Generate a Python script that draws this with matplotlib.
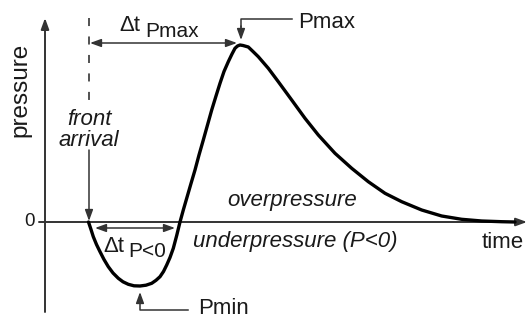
import matplotlib
matplotlib.use("Agg")
import matplotlib.pyplot as plt

plt.rcParams['font.family'] = ['Liberation Sans', 'DejaVu Sans']
plt.rcParams['lines.scale_dashes'] = False

# Schematic blast-wave pressure history (time after front arrival, pressure)
t_curve = [43.5, 46, 48.3, 51.5, 55, 59, 63.3, 68, 73.3, 78, 83.3, 89, 95,
           101, 106.7, 111, 115, 118.5, 121.7, 125, 128.3, 131.7, 135,
           138.3, 141.7, 146, 150, 154, 158.3, 162.5, 166.7, 171, 175, 179,
           183.3, 187, 190, 192.5, 195, 198, 203.3, 208, 213.3, 223.3, 233.3,
           246.7, 260, 273.3, 290, 306.7, 323.3, 340, 356.7, 376.7, 396.7,
           416.7, 436.7, 456.7, 470]
p_curve = [0, -7.5, -14.7, -22.5, -29.7, -37.5, -44.7, -51, -56.3, -59.8,
           -62.3, -63.8, -64, -63.2, -61.3, -58.3, -54.7, -49.5, -43, -35.5,
           -26.3, -13.5, 0, 12, 23.7, 38.5, 52, 67, 82, 97, 112, 126, 138.7,
           150.5, 160.3, 168, 173.7, 176, 177, 176.5, 175, 170.5, 165.3, 153.7,
           140.3, 122, 103.7, 87, 68.7, 53.7, 40.3, 28.7, 20.3, 12, 6, 2.7, 1,
           0.3, 0]

t_front = 44.0      # front arrival
t_peak = 195.0      # time of Pmax
t_zero = 135.0      # end of the underpressure phase
p_peak = 177.0
p_min = -64.0
t_min = 95.0

AX = '#333333'
TXT = '#1a1a1a'

fig = plt.figure(figsize=(5.27, 3.2), dpi=100)
ax = fig.add_axes([0, 0, 1, 1])
ax.set_xlim(-45, 482)
ax.set_ylim(-98, 222)
ax.axis('off')

def arrow(x0, y0, x1, y1, style='-|>', lw=1.1, color=AX):
    ax.annotate('', xy=(x1, y1), xytext=(x0, y0),
                arrowprops=dict(arrowstyle=style + ',head_length=0.55,head_width=0.2',
                                lw=lw, color=color, shrinkA=0, shrinkB=0,
                                mutation_scale=12))

# axes with arrowheads
arrow(0, -90, 0, 204, lw=1.4)
arrow(-6, 0, 482, 0, lw=1.4)
ax.text(-10, 0, '0', ha='right', va='center', fontsize=13.5, color=TXT)
ax.text(-25, 132, 'pressure', rotation=90, ha='center', va='center',
        fontsize=17.5, color=TXT)
ax.text(437, -26, 'time', ha='left', va='baseline', fontsize=16, color=TXT)

# pressure trace
ax.plot(t_curve, p_curve, color='black', lw=2.4, solid_joinstyle='round',
        solid_capstyle='round', zorder=3)

# front arrival marker
ax.plot([t_front, t_front], [204, 119], color=AX, lw=1.2,
        linestyle=(0, (5.8, 7.5)))
ax.text(t_front, 97, 'front', ha='center', va='baseline', fontsize=16,
        style='italic', color=TXT)
ax.text(t_front, 76, 'arrival', ha='center', va='baseline', fontsize=16,
        style='italic', color=TXT)
arrow(t_front, 72, t_front, 1)

# time to peak
arrow(t_front + 1, 179, t_peak - 3, 179, style='<|-|>')
ax.text(74, 191, 'Δt', ha='left', va='baseline', fontsize=16, color=TXT)
ax.text(100, 185, 'Pmax', ha='left', va='baseline', fontsize=15, color=TXT)

# Pmax leader
ax.plot([247, t_peak + 1, t_peak + 1], [203, 203, 195], color=AX, lw=1.1)
arrow(t_peak + 1, 196, t_peak + 1, 182)
ax.text(253, 194, 'Pmax', ha='left', va='baseline', fontsize=16, color=TXT)

# negative phase duration
arrow(t_front + 6, -6, t_zero - 5, -6, style='<|-|>')
ax.text(58, -30, 'Δt', ha='left', va='baseline', fontsize=16, color=TXT)
ax.text(83, -35, 'P<0', ha='left', va='baseline', fontsize=15, color=TXT)

# Pmin leader
ax.plot([143, t_min, t_min], [-88, -88, -80], color=AX, lw=1.1)
arrow(t_min, -81, t_min, -70)
ax.text(153, -92.5, 'Pmin', ha='left', va='baseline', fontsize=16, color=TXT)

# phase labels
ax.text(182, 16, 'overpressure', ha='left', va='baseline', fontsize=16,
        style='italic', color=TXT)
ax.text(148, -25, 'underpressure (P<0)', ha='left', va='baseline', fontsize=16,
        style='italic', color=TXT)

fig.savefig('out.png', dpi=100)
